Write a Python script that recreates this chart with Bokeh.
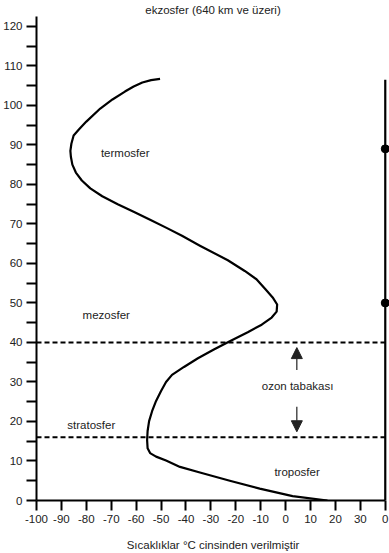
from bokeh.plotting import figure
from bokeh.models import FixedTicker, Arrow, NormalHead, Title
from bokeh.core.properties import value
from bokeh.embed import file_html
from bokeh.resources import INLINE

# ---- data ----
altitude_km = [0, 1.1, 3.0, 5.0, 7.1, 8.5, 10.1, 11.1, 12.0, 13.2, 15.3, 17.6, 20.1, 22.6, 25.2,
               27.7, 30.0, 31.8, 33.8, 36.0, 38.2, 40.3, 42.6, 44.5, 46.3, 47.8, 49.6, 51.4,
               53.4, 56.0, 58.1, 60.8, 64.5, 67.0, 69.0, 71.0, 73.0, 75.0, 77.0, 79.0, 81.0,
               83.0, 85.0, 87.0, 88.5, 90.3, 92.4, 93.9, 95.9, 99.2, 101.5, 103.5,
               104.8, 105.8, 106.4, 106.7]
temperature_c = [16.8, 2.8, -10.4, -22.4, -34.4, -42.4, -48.0, -52.0, -54.4, -55.4, -55.6, -55.4, -54.8, -53.6, -52.0,
                 -50.0, -48.0, -45.6, -40.8, -35.2, -28.8, -22.4, -15.2, -9.6, -5.6, -3.6, -3.4, -5.2,
                 -8.0, -11.7, -16.4, -23.2, -34.4, -41.6, -47.8, -54.2, -60.8, -67.4, -73.6, -78.4, -81.8,
                 -84.2, -85.6, -86.2, -86.4, -86.0, -85.1, -83.0, -80.0, -74.4, -69.5, -64.5,
                 -61.0, -57.5, -54.0, -50.4]

layer_boundaries_km = [40, 16]
layer_names = ["termosfer", "mezosfer", "stratosfer", "troposfer", "ozon tabakası"]
layer_label_temp = [-64.4, -72, -78, 4.6, 4.8]
layer_label_alt = [88, 47, 19, 7.2, 29]

right_scale_temp = 40
right_scale_top_km = 106.5
right_scale_dots_km = [89, 50]

ozone_arrow_temp = 4.5
ozone_up_arrow_km = [33, 38.7]
ozone_down_arrow_km = [23.7, 17.4]

x_ticks = [-100, -90, -80, -70, -60, -50, -40, -30, -20, -10, 0, 10, 20, 30, 40]
x_tick_labels = {t: str(t) for t in x_ticks}
x_tick_labels[40] = "0"
y_ticks = [0, 10, 20, 30, 40, 50, 60, 70, 80, 90, 100, 110, 120]
y_minor_ticks = [5, 15, 25, 35, 45, 55, 65, 75, 85, 95, 105, 115]

FONT = "Liberation Sans"
FS = "11.5px"

p = figure(width=389, height=553, x_range=(-100, 41.7), y_range=(0, 122.5),
           output_backend="svg", toolbar_location=None,
           min_border_left=0, min_border_right=0, min_border_top=0, min_border_bottom=0)
p.outline_line_color = None
p.grid.visible = False
p.background_fill_color = "white"

p.title = Title(text="ekzosfer (640 km ve üzeri)", align="center",
                text_font=FONT, text_font_size=FS, text_font_style="normal",
                text_color="#222222", standoff=2, offset=-6)

xa = p.xaxis[0]
xa.ticker = FixedTicker(ticks=x_ticks)
xa.major_label_overrides = x_tick_labels
xa.bounds = (-100, 40)
ya = p.yaxis[0]
ya.ticker = FixedTicker(ticks=y_ticks, minor_ticks=y_minor_ticks)
ya.bounds = (0, 122.5)
for ax in (xa, ya):
    ax.axis_line_width = 2
    ax.axis_line_color = "black"
    ax.major_tick_line_width = 2
    ax.minor_tick_line_width = 2
    ax.major_tick_line_color = "black"
    ax.minor_tick_line_color = "black"
    ax.major_tick_out = 10
    ax.major_tick_in = 0
    ax.minor_tick_out = 10
    ax.minor_tick_in = 0
    ax.major_label_text_font = FONT
    ax.major_label_text_font_size = FS
    ax.major_label_text_color = "#222222"
xa.minor_tick_line_color = None
xa.major_label_standoff = 4
ya.major_label_standoff = 4
xa.axis_label = "Sıcaklıklar °C cinsinden verilmiştir"
xa.axis_label_text_font = FONT
xa.axis_label_text_font_size = FS
xa.axis_label_text_font_style = "normal"
xa.axis_label_text_color = "#222222"
xa.axis_label_standoff = 13

for b in layer_boundaries_km:
    p.line([-100, right_scale_temp], [b, b], line_color="black", line_width=2, line_dash="5 3")

p.line(temperature_c, altitude_km, line_color="black", line_width=2.2, line_join="round")

p.line([right_scale_temp, right_scale_temp], [0, right_scale_top_km], line_color="black", line_width=2.2)
p.scatter([right_scale_temp] * len(right_scale_dots_km), right_scale_dots_km, size=8,
          fill_color="black", line_color="black")

p.text(layer_label_temp, layer_label_alt, text=layer_names, text_align="center",
       text_baseline="middle", text_font=value(FONT), text_font_size=FS, text_color="#222222")

for (y0, y1) in (ozone_up_arrow_km, ozone_down_arrow_km):
    p.add_layout(Arrow(end=NormalHead(size=11, fill_color="#222222", line_color="#222222"),
                       x_start=ozone_arrow_temp, y_start=y0, x_end=ozone_arrow_temp, y_end=y1,
                       line_color="#222222", line_width=1.2))

open("out.html", "w").write(file_html(p, INLINE))
